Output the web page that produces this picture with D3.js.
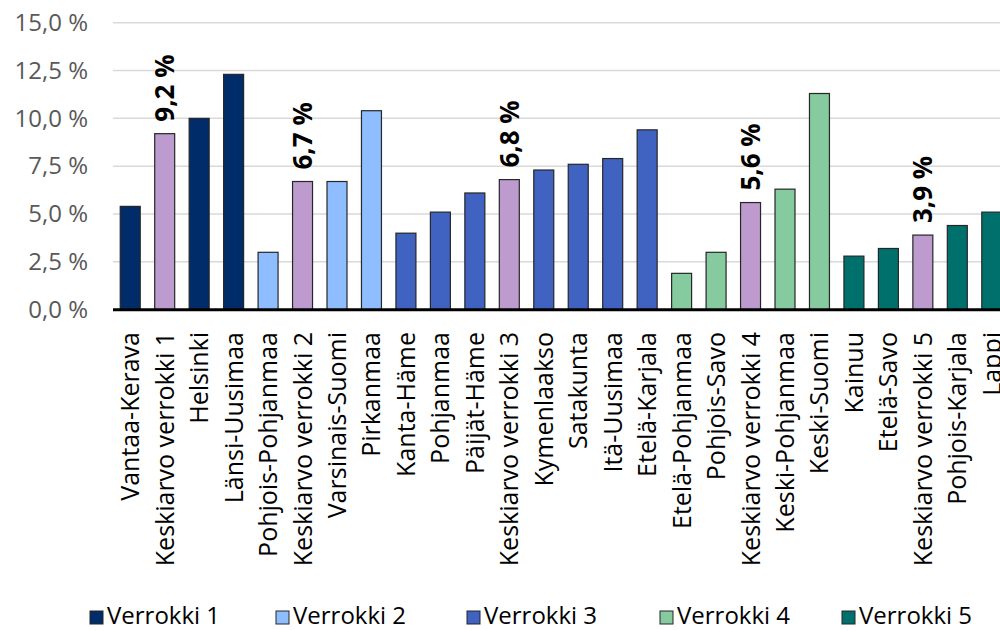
<!DOCTYPE html>
<html>
<head>
<meta charset="utf-8">
<script src="https://cdn.jsdelivr.net/npm/d3@7"></script>
<style>
  html, body { margin: 0; padding: 0; background: #fff; overflow: hidden; }
  svg { display: block; font-family: "Open Sans", "Noto Sans", sans-serif; }
</style>
</head>
<body>
<svg id="chart" width="1000" height="630"></svg>
<script>
// Regions, their share (%) and the comparison group each belongs to
const categories = [
  "Vantaa-Kerava", "Keskiarvo verrokki 1", "Helsinki", "Länsi-Uusimaa",
  "Pohjois-Pohjanmaa", "Keskiarvo verrokki 2", "Varsinais-Suomi", "Pirkanmaa",
  "Kanta-Häme", "Pohjanmaa", "Päijät-Häme", "Keskiarvo verrokki 3",
  "Kymenlaakso", "Satakunta", "Itä-Uusimaa", "Etelä-Karjala",
  "Etelä-Pohjanmaa", "Pohjois-Savo", "Keskiarvo verrokki 4", "Keski-Pohjanmaa",
  "Keski-Suomi", "Kainuu", "Etelä-Savo", "Keskiarvo verrokki 5",
  "Pohjois-Karjala", "Lappi"
];
const values = [
  5.4, 9.2, 10.0, 12.3,
  3.0, 6.7, 6.7, 10.4,
  4.0, 5.1, 6.1, 6.8,
  7.3, 7.6, 7.9, 9.4,
  1.9, 3.0, 5.6, 6.3,
  11.3, 2.8, 3.2, 3.9,
  4.4, 5.1
];
// group index per bar: 1..5 = Verrokki group, 0 = group average
const groups = [
  1, 0, 1, 1,
  2, 0, 2, 2,
  3, 3, 3, 0,
  3, 3, 3, 3,
  4, 4, 0, 4,
  4, 5, 5, 0,
  5, 5
];
const legendLabels = ["Verrokki 1", "Verrokki 2", "Verrokki 3", "Verrokki 4", "Verrokki 5"];
const yTicks = [0, 2.5, 5, 7.5, 10, 12.5, 15];

const groupColors = ["#BE9BCF", "#002D6A", "#8EBEFF", "#4062C1", "#86CAA0", "#00706D"];

const svg = d3.select("#chart");

const plot = { left: 113, right: 1009, top: 22.7, bottom: 309.7 };

const x = d3.scaleBand()
  .domain(categories)
  .range([plot.left, plot.right])
  .paddingInner(0.42)
  .paddingOuter(0.21);

const y = d3.scaleLinear()
  .domain([0, 15])
  .range([plot.bottom, plot.top]);

const fmt = v => d3.format(".1f")(v).replace(".", ",") + " %";

// Horizontal gridlines
svg.append("g")
  .selectAll("line")
  .data(yTicks.filter(t => t > 0))
  .join("line")
  .attr("x1", plot.left).attr("x2", plot.right)
  .attr("y1", d => y(d)).attr("y2", d => y(d))
  .attr("stroke", "#d9d9d9").attr("stroke-width", 1.5);

// Y axis labels
const yAxis = d3.axisLeft(y).tickValues(yTicks).tickFormat(fmt).tickSize(0).tickPadding(25);
const yG = svg.append("g").attr("transform", `translate(${plot.left},0)`).call(yAxis);
yG.select(".domain").remove();
yG.selectAll("text")
  .attr("fill", "#595959")
  .style("font-size", "24px")
  .style("font-family", "'Open Sans', sans-serif");

// Bars
svg.append("g")
  .selectAll("rect")
  .data(categories)
  .join("rect")
  .attr("x", d => x(d))
  .attr("width", x.bandwidth())
  .attr("y", (d, i) => y(values[i]))
  .attr("height", (d, i) => y(0) - y(values[i]))
  .attr("fill", (d, i) => groupColors[groups[i]])
  .attr("stroke", "#262626")
  .attr("stroke-width", 1.2);

// Baseline
svg.append("line")
  .attr("x1", plot.left).attr("x2", plot.right)
  .attr("y1", y(0)).attr("y2", y(0))
  .attr("stroke", "#000").attr("stroke-width", 3);

// Value labels on the group averages
svg.append("g")
  .selectAll("text")
  .data(categories.map((c, i) => ({ c, v: values[i], g: groups[i] })).filter(d => d.g === 0))
  .join("text")
  .attr("transform", d => `translate(${x(d.c) + x.bandwidth() / 2},${y(d.v) - 12}) rotate(-90)`)
  .attr("dy", "0.36em")
  .attr("text-anchor", "start")
  .attr("font-weight", "bold")
  .style("font-size", "26px")
  .attr("fill", "#000")
  .text(d => fmt(d.v));

// Category labels
svg.append("g")
  .selectAll("text")
  .data(categories)
  .join("text")
  .attr("transform", d => `translate(${x(d) + x.bandwidth() / 2},332) rotate(-90)`)
  .attr("dy", "0.36em")
  .attr("text-anchor", "end")
  .style("font-size", "25px")
  .attr("fill", "#000")
  .text(d => d);

// Legend
const legendX = [90, 276, 467, 660, 842];
const legend = svg.append("g")
  .selectAll("g")
  .data(legendLabels)
  .join("g")
  .attr("transform", (d, i) => `translate(${legendX[i]},611)`);
legend.append("rect")
  .attr("width", 13).attr("height", 13)
  .attr("fill", (d, i) => groupColors[i + 1])
  .attr("stroke", "#262626").attr("stroke-width", 1);
legend.append("text")
  .attr("x", 17).attr("y", 13)
  .style("font-size", "24px")
  .attr("fill", "#000")
  .text(d => d);
</script>
</body>
</html>
